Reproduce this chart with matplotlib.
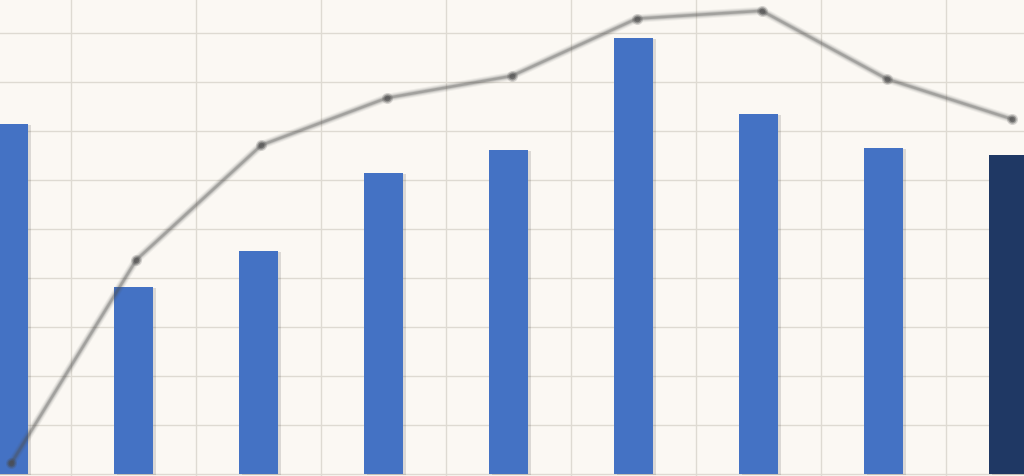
import numpy as np
import matplotlib
matplotlib.use('Agg')
import matplotlib.pyplot as plt
import matplotlib.patheffects as pe
from matplotlib.transforms import offset_copy

# values (one grid step = 10 units)
categories = list(range(9))
bar_values = [71.4, 38.2, 45.5, 61.4, 66.1, 89.0, 73.5, 66.5, 65.1]
line_values = [2.2, 43.7, 67.1, 76.7, 81.2, 92.9, 94.5, 80.6, 72.4]
bar_colors = ['#4472C4'] * 8 + ['#1F3864']

bg = '#FBF8F3'
grid_col = '#DEDAD2'

fig = plt.figure(figsize=(10.24, 4.76), dpi=100, facecolor=bg)
ax = fig.add_axes([0, 0, 1, 1], facecolor=bg)

x = np.arange(len(categories))

# grid: vertical lines between categories, horizontal every 10 units
ax.set_xticks(x[:-1] + 0.5)
ax.set_yticks(np.arange(0, 100, 10))
ax.grid(True, color=grid_col, linewidth=1.0, zorder=0)
ax.set_axisbelow(True)
ax.tick_params(left=False, bottom=False, labelleft=False, labelbottom=False)
for s in ax.spines.values():
    s.set_visible(False)

bars = ax.bar(x, bar_values, width=0.312, color=bar_colors, zorder=2)
for b in bars:
    b.set_path_effects([pe.SimplePatchShadow(offset=(2, -1), shadow_rgbFace='#000000', alpha=0.12),
                        pe.Normal()])

# blurred grey line, nudged a few pixels right like in the picture
tr = offset_copy(ax.transData, fig=fig, x=3, y=0, units='dots')
for lw, a in [(6, 0.07), (4.5, 0.11), (3, 0.18), (1.8, 0.28)]:
    ax.plot(x, line_values, color='#505050', linewidth=lw, alpha=a,
            solid_capstyle='round', transform=tr, zorder=3)
for ms, a in [(8, 0.2), (6, 0.35), (4, 0.5)]:
    ax.plot(x, line_values, linestyle='none', marker='o', markersize=ms,
            color='#4a4a4a', alpha=a, markeredgewidth=0, transform=tr, zorder=4)

ax.set_xlim(-0.066, 8.12)
ax.set_ylim(-0.4, 96.7)

fig.savefig('out.png', dpi=100, facecolor=bg)
